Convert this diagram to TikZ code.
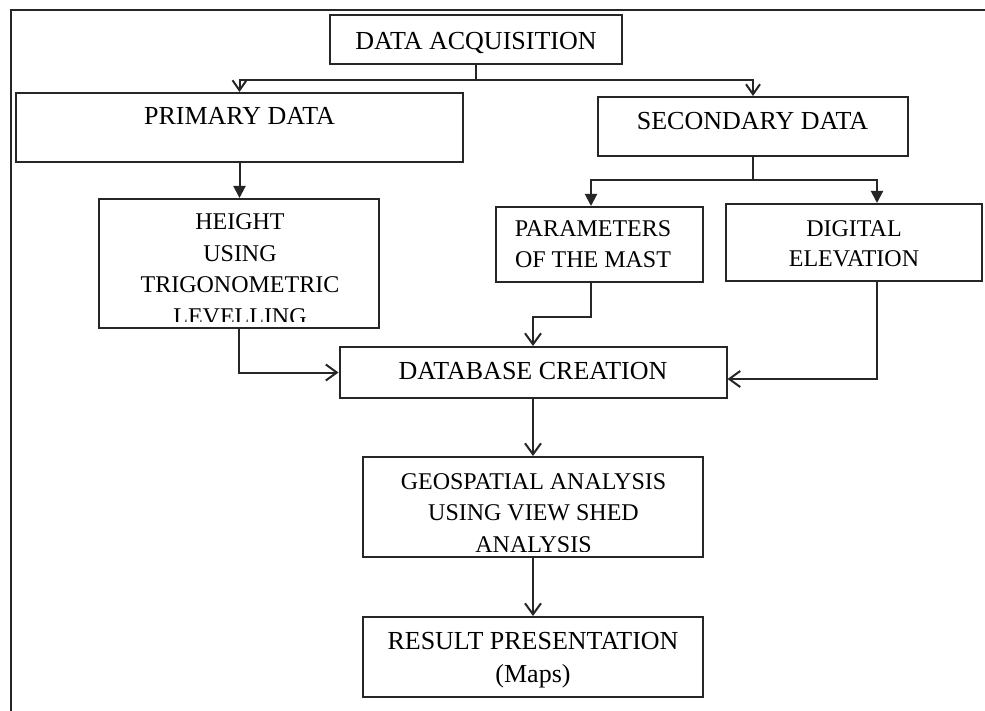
\documentclass[tikz,border=0pt]{standalone}
\usepackage{fontspec}
\setmainfont{Liberation Serif}
\usetikzlibrary{arrows.meta}
\begin{document}
\begin{tikzpicture}[x=1pt,y=-1pt,
  ln/.style={line width=2pt, draw=black!85},
  boxn/.style={draw=black!85, line width=2pt, rectangle, inner sep=0pt},
  txt/.style={anchor=north, inner sep=0pt, align=center, text=black},
  bigf/.style={font=\fontsize{26}{33}\selectfont},
  smallf/.style={font=\fontsize{24}{31.7}\selectfont},
  fillarr/.style={ln, -{Triangle[length=12pt,width=12pt]}},
  openarr/.style={ln, -{Straight Barb[length=11pt,width=16pt,line width=2pt]}},
  opensm/.style={ln, -{Straight Barb[length=10pt,width=14pt,line width=2pt]}},
]
\useasboundingbox (0,0) rectangle (985,711);
\fill[white] (0,0) rectangle (985,711);
\coordinate (frBL) at (11,711);
\coordinate (frTL) at (11,10);
\coordinate (frTR) at (985,10);
\draw[ln, line width=2.2pt] (frBL) -- (frTL) -- (frTR);

% boxes
\node[boxn, minimum width=292pt, minimum height=49pt] (DA) at (476,39.5) {};
\node[boxn, minimum width=447pt, minimum height=69pt] (PRI) at (239.5,127.5) {};
\node[boxn, minimum width=310pt, minimum height=59pt] (SEC) at (753,126.5) {};
\node[boxn, minimum width=280pt, minimum height=129pt] (H) at (239,263.5) {};
\node[boxn, minimum width=207pt, minimum height=75pt] (PAR) at (599.5,244.5) {};
\node[boxn, minimum width=256pt, minimum height=77pt] (DIG) at (854,242.5) {};
\node[boxn, minimum width=387pt, minimum height=51pt] (DB) at (533,372.5) {};
\node[boxn, minimum width=340pt, minimum height=100pt] (GEO) at (533,507) {};
\node[boxn, minimum width=340pt, minimum height=80pt] (RES) at (533,657) {};

% texts
\node[txt,bigf] (tDA) at (476,32) {DATA ACQUISITION};
\node[txt,bigf] (tPRI) at (239.5,107) {PRIMARY DATA};
\node[txt,bigf] (tSEC) at (752.5,111.7) {SECONDARY DATA};
\begin{scope}
  \clip (H.north west) rectangle ([yshift=8pt]H.south east);
  \node[txt,smallf] (tH) at (240,213.5) {HEIGHT\\USING\\TRIGONOMETRIC\\LEVELLING};
\end{scope}
\node[txt,smallf] (tPAR) at (593,220) {PARAMETERS\\OF THE MAST};
\node[txt,font=\fontsize{24}{30.5}\selectfont] (tDIG) at (854,220) {DIGITAL\\ELEVATION};
\node[txt,bigf] (tDB) at (533,361.7) {DATABASE CREATION};
\begin{scope}
  \clip (GEO.north west) rectangle ([yshift=7pt]GEO.south east);
  \node[txt,font=\fontsize{24}{31.5}\selectfont] (tGEO) at (533.5,473.3) {GEOSPATIAL ANALYSIS\\USING VIEW SHED\\ANALYSIS};
\end{scope}
\node[txt,font=\fontsize{26}{33}\selectfont] (tRES) at (533,632) {RESULT PRESENTATION\\(Maps)};

% connectors
\coordinate (j1) at (476,80);
\draw[ln] (DA.south) -- (j1);
\draw[opensm] (j1) -| (PRI.north);
\draw[opensm] (j1) -| (SEC.north);

\draw[fillarr] (PRI.south) -- (PRI.south |- H.north);

\coordinate (j2) at (753,180);
\coordinate (xPar) at (591,0);
\coordinate (xDig) at (877,0);
\draw[ln] (SEC.south) -- (j2);
\draw[fillarr] (j2) -| (PAR.north -| xPar);
\draw[fillarr] (j2) -| (DIG.north -| xDig);

\coordinate (k1) at (533,317);
\draw[openarr] (PAR.south -| xPar) |- (k1) -- (DB.north);
\draw[openarr] (H.south) |- (DB.west);
\coordinate (yDig) at (0,379);
\draw[openarr] (DIG.south -| xDig) |- (DB.east |- yDig);

\draw[openarr] (DB.south) -- (GEO.north);
\draw[openarr] (GEO.south) -- (RES.north);
\end{tikzpicture}
\end{document}
